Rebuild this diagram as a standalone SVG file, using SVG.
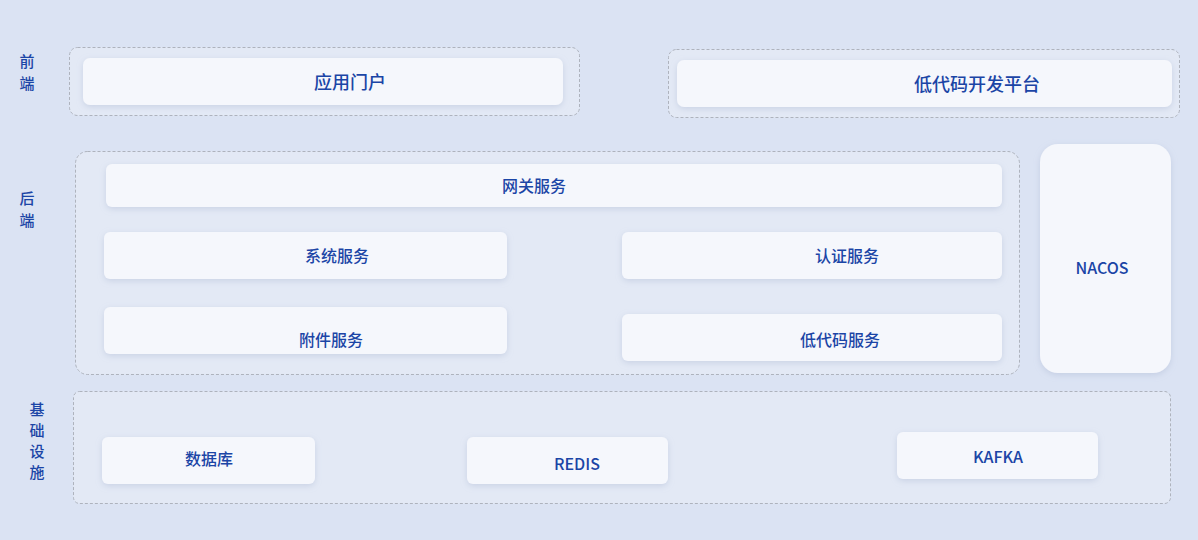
<svg xmlns="http://www.w3.org/2000/svg" width="1198" height="540" viewBox="0 0 1198 540">
<defs>
<filter id="sh" x="-10%" y="-30%" width="120%" height="160%"><feDropShadow dx="0" dy="2" stdDeviation="3" flood-color="#9aa8c8" flood-opacity="0.35"/></filter>
</defs>
<style>
.grp{fill:#e3e9f5;stroke:#aeb3bd;stroke-width:1;stroke-dasharray:3 2}
.card{fill:#f5f7fc;filter:url(#sh)}
text{font-family:"Noto Sans CJK SC","Noto Sans",sans-serif;fill:#1b45a6;text-anchor:middle;dominant-baseline:central;font-weight:500}
.t{font-size:18px}
.s{font-size:16px}
.l{font-size:15px}
</style>
<rect width="1198" height="540" fill="#dbe3f3"/>
<g id="labels">
<text class="l" x="27" y="60">前</text><text class="l" x="27" y="82">端</text>
<text class="l" x="27" y="197">后</text><text class="l" x="27" y="219">端</text>
<text class="l" x="37" y="408">基</text><text class="l" x="37" y="429">础</text><text class="l" x="37" y="450">设</text><text class="l" x="37" y="471">施</text>
</g>
<g id="frontend">
<rect class="grp" x="69.5" y="47.5" width="510" height="68" rx="8"/>
<rect class="grp" x="668.5" y="49.5" width="511" height="68" rx="8"/>
</g>
<g id="portal"><rect class="card" x="83" y="58" width="480" height="47" rx="7"/><text class="t" x="350" y="81">应用门户</text></g>
<g id="lowcode-platform"><rect class="card" x="677" y="60" width="495" height="47" rx="7"/><text class="t" x="977" y="83">低代码开发平台</text></g>
<g id="backend"><rect class="grp" x="75.5" y="151.5" width="944" height="223" rx="12"/></g>
<g id="gateway"><rect class="card" x="106" y="164" width="896" height="43" rx="6"/><text class="s" x="534" y="185">网关服务</text></g>
<g id="system"><rect class="card" x="104" y="232" width="403" height="47" rx="6"/><text class="s" x="337" y="255">系统服务</text></g>
<g id="auth"><rect class="card" x="622" y="232" width="380" height="47" rx="6"/><text class="s" x="847" y="255">认证服务</text></g>
<g id="attach"><rect class="card" x="104" y="307" width="403" height="47" rx="6"/><text class="s" x="331" y="339">附件服务</text></g>
<g id="lowcode"><rect class="card" x="622" y="314" width="380" height="47" rx="6"/><text class="s" x="840" y="339">低代码服务</text></g>
<g id="nacos"><rect class="card" x="1040" y="144" width="131" height="229" rx="18"/><text class="s" x="1102" y="267">NACOS</text></g>
<g id="infra"><rect class="grp" x="73.5" y="391.5" width="1097" height="112" rx="6"/></g>
<g id="db"><rect class="card" x="102" y="437" width="213" height="47" rx="6"/><text class="s" x="209" y="458">数据库</text></g>
<g id="redis"><rect class="card" x="467" y="437" width="201" height="47" rx="6"/><text class="s" x="577" y="463">REDIS</text></g>
<g id="kafka"><rect class="card" x="897" y="432" width="201" height="47" rx="6"/><text class="s" x="998" y="456">KAFKA</text></g>
<g id="connectors"/>
</svg>
